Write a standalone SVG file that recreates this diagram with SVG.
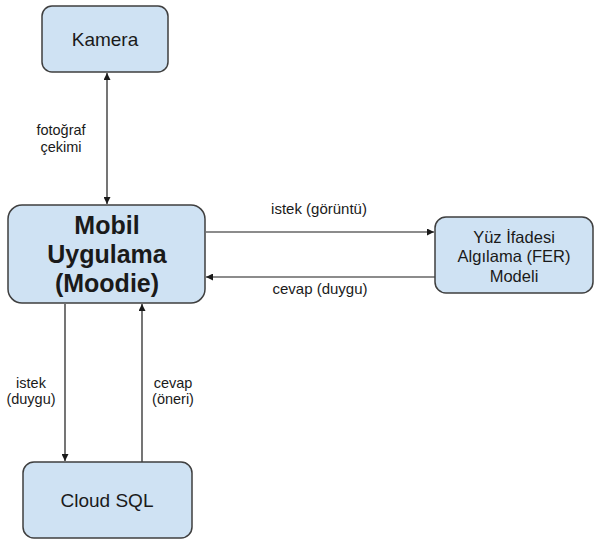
<svg xmlns="http://www.w3.org/2000/svg" width="598" height="543" viewBox="0 0 598 543">
<style>
.box{fill:#cfe2f3;stroke:#3f3f3f;stroke-width:1.5}
.t{font-family:"Liberation Sans",Arial,sans-serif;fill:#1a1a1a;text-anchor:middle}
.lbl{font-family:"Liberation Sans",Arial,sans-serif;font-size:14.5px;fill:#1a1a1a;text-anchor:middle}
.h{font-size:15px}
.c{stroke:#1a1a1a;stroke-width:1.2;fill:none}
</style>
<defs>
<marker id="ah" viewBox="0 0 10 10" refX="10" refY="5" markerWidth="7" markerHeight="7" orient="auto-start-reverse" markerUnits="userSpaceOnUse">
<path d="M0,0 L10,5 L0,10 z" fill="#1a1a1a"/>
</marker>
</defs>
<rect width="598" height="543" fill="#ffffff"/>
<g id="connectors">
<line class="c" x1="107" y1="73" x2="107" y2="204" marker-start="url(#ah)" marker-end="url(#ah)"/>
<line class="c" x1="206" y1="232" x2="434" y2="232" marker-end="url(#ah)"/>
<line class="c" x1="435" y1="277" x2="206" y2="277" marker-end="url(#ah)"/>
<line class="c" x1="65" y1="304" x2="65" y2="461" marker-end="url(#ah)"/>
<line class="c" x1="142" y1="462" x2="142" y2="304" marker-end="url(#ah)"/>
<text class="lbl" x="61" y="135" font-size="14">fotoğraf</text>
<text class="lbl" x="61" y="152">çekimi</text>
<text class="lbl h" x="319" y="214">istek (görüntü)</text>
<text class="lbl h" x="320" y="294">cevap (duygu)</text>
<text class="lbl" x="31" y="388">istek</text>
<text class="lbl" x="31" y="404">(duygu)</text>
<text class="lbl" x="173" y="388">cevap</text>
<text class="lbl" x="173" y="404">(öneri)</text>
</g>
<g id="kamera">
<rect class="box" x="42" y="6" width="126" height="66" rx="10"/>
<text class="t" x="105" y="46" font-size="19">Kamera</text>
</g>
<g id="mobil">
<rect class="box" x="8" y="205" width="197" height="98" rx="14"/>
<text class="t" x="107" y="234" font-size="25" font-weight="bold">Mobil</text>
<text class="t" x="107" y="263" font-size="25" font-weight="bold">Uygulama</text>
<text class="t" x="107" y="292" font-size="25" font-weight="bold">(Moodie)</text>
</g>
<g id="fer">
<rect class="box" x="435" y="217" width="158" height="76" rx="11"/>
<text class="t" x="514" y="243" font-size="16.5">Yüz İfadesi</text>
<text class="t" x="514" y="262" font-size="16.5">Algılama (FER)</text>
<text class="t" x="514" y="282" font-size="16.5">Modeli</text>
</g>
<g id="cloudsql">
<rect class="box" x="23" y="462" width="169" height="76" rx="11"/>
<text class="t" x="107" y="507" font-size="19">Cloud SQL</text>
</g>
</svg>
